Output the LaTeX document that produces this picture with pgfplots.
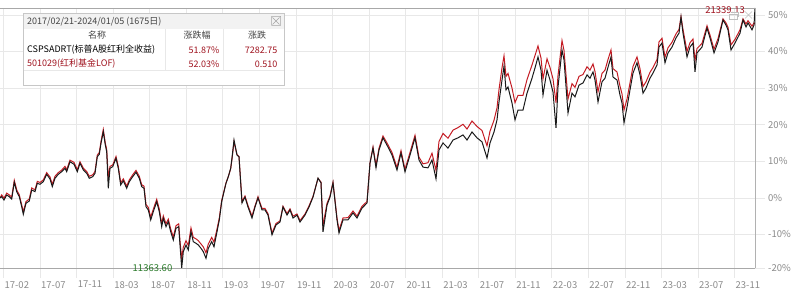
\documentclass[border=0pt]{standalone}
\usepackage{fontspec}
\setmainfont{Noto Sans CJK SC}
\usepackage{pgfplots}
\pgfplotsset{compat=1.18}
\definecolor{blk}{HTML}{1A1A1A}
\definecolor{rd}{HTML}{C41C24}
\definecolor{grd}{HTML}{E8E8E8}
\definecolor{axg}{HTML}{A8A8A8}
\definecolor{tk}{HTML}{8A8A8A}
\definecolor{dred}{HTML}{A01420}
\definecolor{grn}{HTML}{2A7A2A}
\definecolor{hdr}{HTML}{F2F2F2}
\definecolor{txt}{HTML}{444444}
\newcommand\fs[1]{\fontsize{#1bp}{#1bp}\selectfont}
\begin{document}
\begin{tikzpicture}
\useasboundingbox (0,0) rectangle (800bp,291bp);
\begin{axis}[
  at={(0,23bp)}, anchor=south west,
  scale only axis, width=755bp, height=260bp,
  xmin=0, xmax=755, ymin=-19.16, ymax=51.87,
  axis line style={draw=none},
  clip=false,
  xtick={3.45,40,76.55,113.1,149.65,186.2,222.75,259.3,295.85,332.4,368.95,405.5,442.05,478.6,515.15,551.7,588.25,624.8,661.35,697.9,734.45},
  xticklabels={17-02,17-07,17-11,18-03,18-07,18-11,19-03,19-07,19-11,20-03,20-07,20-11,21-03,21-07,21-11,22-03,22-07,22-11,23-03,23-07,23-11},
  ytick={-19.16,-10,0,10,20,30,40,50},
  yticklabels={-20\%,-10\%,0\%,10\%,20\%,30\%,40\%,50\%},
  xtick pos=left, ytick pos=right, yticklabel pos=right,
  tick align=outside, major tick length=10bp,
  tick style={grd, line width=0.6bp},
  grid=major, grid style={grd, line width=0.6bp},
  xticklabel style={anchor=north west, inner sep=0pt, font=\fs{9.5}, text=tk, xshift=1bp, yshift=-3bp},
  yticklabel style={anchor=west, inner sep=0pt, font=\fs{9.5}, text=tk, xshift=3bp},
]
\addplot[rd, line width=1bp] coordinates {
(0,0.0)(1.7,0.8)(4,-0.1)(6.7,1.3)(9.3,0.8)(11.7,0.2)(14.3,4.8)(16.7,2.2)(19.3,0.8)(21.7,-1.9)
(23.3,-3.8)(26,-1.0)(29.3,-0.3)(31.7,2.7)(35,2.2)(37.3,4.5)(40,4.2)(43.3,4.9)(46.7,6.9)(50,5.7)
(52.3,3.7)(55,5.9)(58.3,6.9)(61.7,7.6)(65,8.6)(66.7,7.7)(70,10.3)(74,9.7)(77.3,7.7)(80,9.9)
(83.3,8.1)(86.7,7.2)(89.3,5.9)(92.7,6.3)(95,7.2)(97.3,11.7)(99.3,12.4)(101,15.4)(103.3,18.7)(105.3,15.0)
(106.7,13.2)(108.3,5.5)(110,8.6)(112.7,9.0)(116,11.3)(118.3,8.6)(120.7,4.1)(123.3,5.2)(126.7,3.2)(129.3,4.9)
(132.7,6.3)(136,7.5)(139.3,5.9)(141.7,3.6)(144,3.2)(146,-1.8)(148.3,-2.6)(150.7,-5.3)(153.3,-3.1)(156.7,-0.4)
(159.3,-3.1)(161.7,-7.1)(163.3,-4.9)(166,-7.1)(168.3,-5.8)(170.7,-8.5)(173.3,-10.7)(176,-7.6)(178.7,-7.1)(180,-11.8)
(181.7,-16.5)(183.3,-13.5)(186,-11.7)(188.3,-13.0)(191,-8.2)(193.3,-10.8)(196,-11.2)(198.3,-11.7)(201,-12.6)(203.3,-13.4)
(206,-15.0)(208.3,-12.6)(211.7,-10.8)(214,-12.1)(216.7,-8.9)(219.3,-5.5)(221.7,-0.7)(224,1.9)(226,4.1)(228.3,5.8)
(230.7,8.0)(232,10.6)(234,15.3)
(237,11.8)(239,11.3)(242,-1.0)(245,0.5)(248,-2.1)(252,-5.0)(255,-2.2)(258,0.3)(262,-2.9)(265,-2.9)
(268,-4.3)(272,-9.6)(276,-7.0)(280,-6.3)(283,-2.3)(287,-4.3)(290,-3.0)(293,-5.0)(297,-4.4)(300,-6.2)
(305,-4.4)(309,-2.2)(313,0.4)(318,5.3)(321,4.3)(323,-7.5)(327,-1.5)(330,0.5)(333,4.3)(337,-5.5)
(339,-8.9)(343,-5.5)(348,-5.4)(353,-3.6)(357,-5.0)(362,-2.3)(367,-1.0)(370,9.5)(373,13.9)(376,8.9)
(379,13.6)(383,16.9)(387,15.0)(392,12.4)(397,8.3)(401,12.9)(405,7.8)(410,12.4)(415,17.1)(419,11.1)
(423,9.3)(428,9.6)(432,12.2)(436,7.5)(439,15.4)(443,17.6)(448,16.3)(453,18.5)(458,19.2)(463,20.1)
(467,18.8)(472,21.0)(477,19.5)(482,18.4)(487,14.2)(490,18.2)(494,21.2)(497,24.6)(499,29.6)(502,35.5)
(504,38.8)(506,33.2)(508,34.0)(512,30.0)(515,26.0)(518,28.0)(523,28.0)(527,32.3)(532,36.3)(535,38.9)
(538,41.5)(541,38.2)(543,32.5)(547,38.0)(550,35.6)(553,32.5)(556,26.0)(558,33.4)(562,43.0)(564,40.3)
(568,27.0)(572,31.2)(575,30.2)(579,33.2)(583,33.7)(587,35.8)(590,34.9)(593,36.6)(595,34.5)(598,29.0)
(602,34.0)(605,34.9)(608,37.8)(611,40.4)(613,35.3)(617,34.4)(620,30.5)(622,28.4)(624,24.0)(627,27.0)
(630,31.4)(633,35.9)(637,38.5)(640,35.3)(643,30.4)(646,31.7)(650,34.3)(653,35.6)(657,37.8)(659,42.6)
(662,43.6)(665,38.4)(668,41.0)(672,42.5)(676,44.8)(679,46.0)(681,49.5)(683,46.0)(687,40.0)(690,42.4)
(693,43.4)(695,37.5)(697,40.8)(702,42.2)(707,47.0)(710,44.5)(714,40.6)(718,43.5)(723,48.9)(726,47.8)
(728,46.6)(731,41.8)(735,43.3)(740,45.9)(743,48.9)(746,47.5)(748,48.4)(752,46.9)(754,47.8)(755,47.6)
};
\addplot[blk, line width=1bp] coordinates {
(0,0.0)(1.7,0.32)(4,-0.58)(6.7,0.79)(9.3,0.32)(11.7,-0.31)(14.3,4.26)(16.7,1.69)(19.3,0.32)(21.7,-2.41)
(23.3,-4.49)(26,-1.48)(29.3,-0.85)(31.7,2.15)(35,1.69)(37.3,3.98)(40,3.71)(43.3,4.42)(46.7,6.44)(50,5.16)
(52.3,3.06)(55,5.35)(58.3,6.44)(61.7,7.15)(65,8.08)(66.7,7.15)(70,9.88)(74,9.17)(77.3,7.15)(80,9.45)
(83.3,7.62)(86.7,6.71)(89.3,5.35)(92.7,5.79)(95,6.71)(97.3,11.25)(99.3,11.9)(101,14.91)(103.3,18.08)(105.3,14.45)
(106.7,12.62)(108.3,2.62)(110,8.08)(112.7,8.52)(116,10.81)(118.3,8.08)(120.7,3.52)(123.3,4.67)(126.7,2.62)(129.3,4.42)
(132.7,5.79)(136,6.99)(139.3,5.35)(141.7,3.06)(144,2.62)(146,-2.41)(148.3,-3.31)(150.7,-6.04)(153.3,-3.78)(156.7,-1.04)
(159.3,-3.78)(161.7,-7.87)(163.3,-5.58)(166,-7.87)(168.3,-6.51)(170.7,-9.24)(173.3,-11.51)(176,-8.31)(178.7,-7.87)(180,-12.87)
(181.7,-19.16)(183.3,-14.7)(186,-12.87)(188.3,-14.24)(191,-9.24)(193.3,-11.97)(196,-12.41)(198.3,-12.87)(201,-13.78)(203.3,-14.7)
(206,-16.51)(208.3,-13.78)(211.7,-11.97)(214,-13.34)(216.7,-9.68)(219.3,-6.04)(221.7,-1.04)(224,1.69)(226,3.98)(228.3,5.79)
(230.7,8.08)(232,10.9)(234,15.8)
(237,11.7)(239,11.2)(242,-1.4)(245,0.2)(248,-2.5)(252,-5.5)(255,-2.5)(258,0.0)(262,-3.3)(265,-3.3)
(268,-4.7)(272,-10.1)(276,-7.4)(280,-6.6)(283,-2.5)(287,-4.7)(290,-3.3)(293,-5.5)(297,-4.7)(300,-6.6)
(305,-4.7)(309,-2.5)(313,0.2)(318,5.4)(321,4.1)(323,-9.3)(327,-2.0)(330,0.2)(333,4.1)(337,-6.0)
(339,-9.6)(343,-6.0)(348,-6.0)(353,-4.1)(357,-5.5)(362,-2.8)(367,-1.4)(370,9.5)(373,13.6)(376,8.2)
(379,13.08)(383,16.4)(387,14.4)(392,11.7)(397,7.6)(401,12.25)(405,7.1)(410,11.7)(415,16.4)(419,10.35)
(423,8.4)(428,8.2)(432,10.35)(436,5.2)(439,13.08)(443,15.0)(448,13.6)(453,15.8)(458,16.4)(463,17.2)
(467,15.8)(472,18.0)(477,16.4)(482,15.3)(487,10.9)(490,15.0)(494,18.0)(497,21.3)(499,26.2)(502,32.2)
(504,36.0)(506,29.5)(508,30.3)(512,25.9)(515,21.3)(518,24.0)(523,24.0)(527,28.6)(532,32.7)(535,35.5)
(538,38.5)(541,34.9)(543,28.1)(547,34.9)(550,32.2)(553,28.9)(556,19.1)(558,30.3)(562,40.4)(564,37.7)
(568,23.2)(572,28.6)(575,27.6)(579,30.8)(583,31.4)(587,33.6)(590,32.7)(593,34.4)(595,32.2)(598,26.2)
(602,31.7)(605,32.7)(608,35.7)(611,38.5)(613,33.0)(617,32.2)(620,28.1)(622,25.9)(624,20.5)(627,24.8)
(630,29.5)(633,34.1)(637,36.9)(640,33.6)(643,28.6)(646,30.0)(650,32.7)(653,34.1)(657,36.3)(659,41.2)
(662,42.3)(665,36.9)(668,39.6)(672,41.2)(676,43.7)(679,45.0)(681,49.4)(683,45.0)(687,38.5)(690,41.2)
(693,42.3)(695,34.4)(697,39.6)(702,41.2)(707,46.4)(710,43.7)(714,39.6)(718,42.6)(723,48.6)(726,47.2)
(728,45.9)(731,40.4)(735,42.3)(740,45.0)(743,48.6)(746,46.7)(748,47.8)(752,45.9)(754,47.2)(755,51.87)
};
\draw[axg, line width=0.8bp] (axis cs:0,51.87) -- (axis cs:755,51.87);
\draw[axg, line width=0.8bp] (axis cs:0,-19.16) -- (axis cs:755,-19.16);
\draw[axg!90, line width=1bp] (axis cs:755,-19.16) -- (axis cs:755,51.87);
\end{axis}
\begin{scope}[x=1bp,y=-1bp,shift={(0,291bp)}]
% legend box
\fill[white] (23,13) rectangle (284,85);
\fill[hdr] (23,13) rectangle (284,29);
\draw[grd, line width=0.6bp] (165,29) -- (165,70) (223,29) -- (223,70) (23,70) -- (284,70);
\draw[black!22, line width=0.7bp] (23,13) rectangle (284,85);
\node[anchor=west, inner sep=0pt, font=\fs{9}, text=txt] at (27,21.5) {2017/02/21-2024/01/05 (1675日)};
\draw[black!35, line width=0.5bp] (271.5,16.5) rectangle (280.5,25.5) (272.5,17.5) -- (279.5,24.5) (272.5,24.5) -- (279.5,17.5);
\node[inner sep=0pt, font=\fs{9}, text=txt] at (97,35.5) {名称};
\node[inner sep=0pt, font=\fs{9}, text=txt] at (197,35.5) {涨跌幅};
\node[inner sep=0pt, font=\fs{9}, text=txt] at (257,35.5) {涨跌};
\node[anchor=west, inner sep=0pt, font=\fs{9}, text=black] at (27,50) {CSPSADRT(标普A股红利全收益)};
\node[anchor=east, inner sep=0pt, font=\fs{9}, text=dred] at (219.5,50) {51.87\%};
\node[anchor=east, inner sep=0pt, font=\fs{9}, text=dred] at (277.5,50) {7282.75};
\node[anchor=west, inner sep=0pt, font=\fs{9}, text=dred] at (27,64) {501029(红利基金LOF)};
\node[anchor=east, inner sep=0pt, font=\fs{9}, text=dred] at (219.5,64) {52.03\%};
\node[anchor=east, inner sep=0pt, font=\fs{9}, text=dred] at (277.5,64) {0.510};
% annotations
\node[anchor=east, inner sep=0pt, font=\fs{9.5}, text=dred] at (745,10) {21339.13};
\draw[black!25, line width=0.5bp] (729,14) rectangle (737,19.5) (731,12.5) -- (738.5,12.5) -- (738.5,17.5);
\draw[black!25, line width=0.5bp] (745,11.5) -- (752,18.5) (745,18.5) -- (752,11.5);
\node[inner sep=0pt, font=\fs{9.5}, text=grn] at (152.5,268.5) {11363.60};
\end{scope}
\end{tikzpicture}
\end{document}
